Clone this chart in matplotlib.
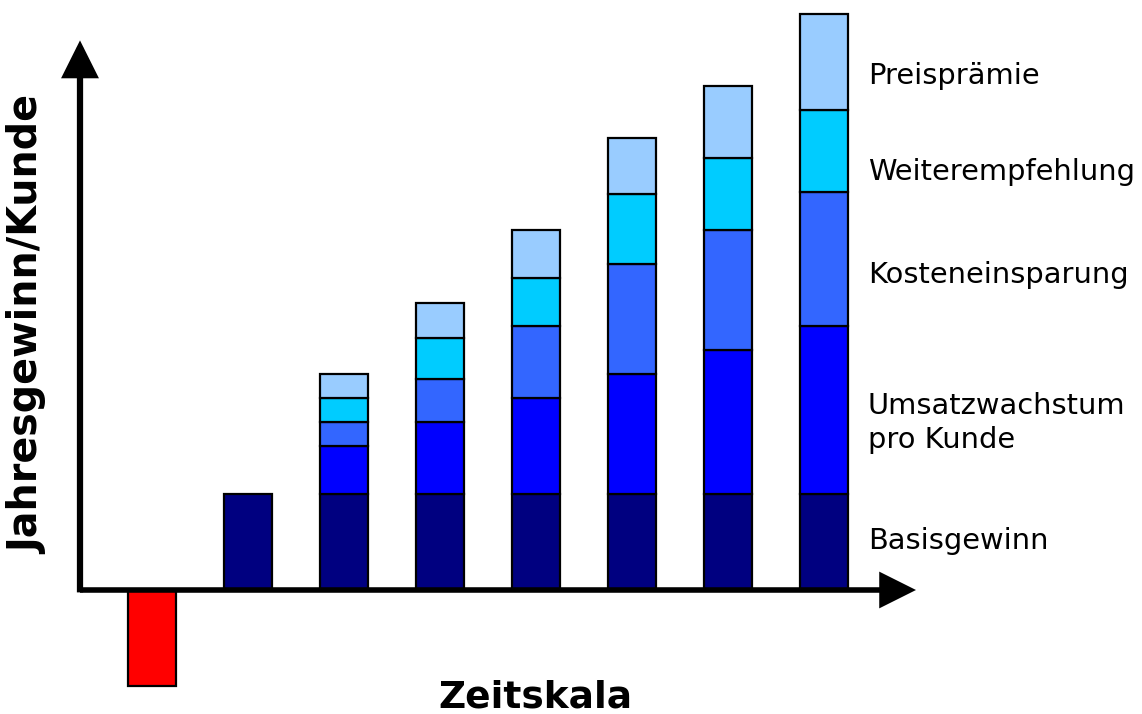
import matplotlib
matplotlib.use("Agg")
import matplotlib.pyplot as plt
import numpy as np

# ---- data ----
periods = list(range(8))
basisgewinn = [-4, 4, 4, 4, 4, 4, 4, 4]
umsatzwachstum = [0, 0, 2, 3, 4, 5, 6, 7]
kosteneinsparung = [0, 0, 1, 1.8, 3, 4.6, 5, 5.6]
weiterempfehlung = [0, 0, 1, 1.7, 2, 2.9, 3, 3.4]
preispraemie = [0, 0, 1, 1.45, 2, 2.35, 3, 4]

series_labels = ["Basisgewinn", "Umsatzwachstum\npro Kunde", "Kosteneinsparung",
                 "Weiterempfehlung", "Preisprämie"]
colors = ["#000080", "#0000FF", "#3366FF", "#00CCFF", "#99CCFF"]
neg_color = "#FF0000"

plt.rcParams['font.family'] = ['DejaVu Sans']

fig = plt.figure(figsize=(11.42, 7.14), dpi=100)
ax = fig.add_axes([0, 0, 1, 1])
ax.set_xlim(-152 / 96, (1142 - 152) / 96)
ax.set_ylim((590 - 714) / 24, 590 / 24)
ax.axis('off')

x = np.array(periods)
width = 0.5
base = np.array(basisgewinn, dtype=float)
base_colors = [neg_color if v < 0 else colors[0] for v in base]
ax.bar(x, base, width=width, color=base_colors, edgecolor='black', linewidth=1.6, zorder=2)
bottom = np.where(base > 0, base, 0.0)
for vals, c in zip([umsatzwachstum, kosteneinsparung, weiterempfehlung, preispraemie], colors[1:]):
    v = np.array(vals, dtype=float)
    mask = v > 0
    ax.bar(x[mask], v[mask], width=width, bottom=bottom[mask], color=c,
           edgecolor='black', linewidth=1.6, zorder=2)
    bottom = bottom + v

# axes arrows
x0 = -0.75
arrow = dict(arrowstyle='-|>,head_length=1.0,head_width=0.5', color='black',
             lw=4.5, mutation_scale=20, shrinkA=0, shrinkB=0,
             capstyle='butt', joinstyle='miter')
ax.annotate('', xy=(x0, 22.9), xytext=(x0, -0.1), arrowprops=arrow, zorder=5)
ax.annotate('', xy=((916 - 152) / 96, 0), xytext=(x0, 0), arrowprops=dict(arrow, lw=4), zorder=5)

# series labels on the right
label_y = [541, 423, 275, 172, 76]
for lab, yp in zip(series_labels, label_y):
    fig.text(868 / 1142, 1 - yp / 714, lab, fontsize=20.8, ha='left', va='center',
             linespacing=1.25)

fig.text(28 / 1142, 1 - 325 / 714, "Jahresgewinn/Kunde", rotation=90, fontsize=28.5,
         fontweight='bold', ha='center', va='center')
fig.text(535 / 1142, 1 - 698 / 714, "Zeitskala", fontsize=27, fontweight='bold',
         ha='center', va='center')

fig.savefig("out.png", dpi=100)
